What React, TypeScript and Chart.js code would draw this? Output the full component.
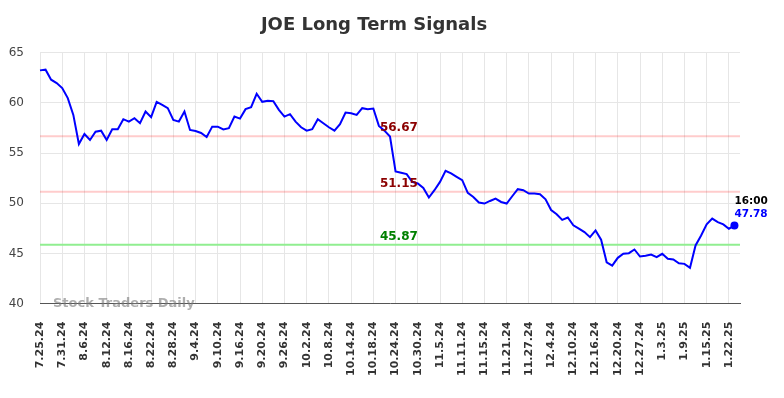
import React, { useEffect, useRef } from "react";
import { Chart, registerables } from "chart.js";

Chart.register(...registerables);

const dates: string[] = [
  "7.25.24", "7.26.24", "7.29.24", "7.30.24", "7.31.24",
  "8.1.24", "8.2.24", "8.5.24", "8.6.24", "8.7.24", "8.8.24", "8.9.24", "8.12.24", "8.13.24", "8.14.24", "8.15.24", "8.16.24",
  "8.19.24", "8.20.24", "8.21.24", "8.22.24", "8.23.24", "8.26.24", "8.27.24", "8.28.24", "8.29.24", "8.30.24",
  "9.3.24", "9.4.24", "9.5.24", "9.6.24", "9.9.24", "9.10.24", "9.11.24", "9.12.24", "9.13.24", "9.16.24", "9.17.24",
  "9.18.24", "9.19.24", "9.20.24", "9.23.24", "9.24.24", "9.25.24", "9.26.24", "9.27.24", "9.30.24",
  "10.1.24", "10.2.24", "10.3.24", "10.4.24", "10.7.24", "10.8.24", "10.9.24", "10.10.24", "10.11.24", "10.14.24",
  "10.15.24", "10.16.24", "10.17.24", "10.18.24", "10.21.24", "10.22.24", "10.23.24", "10.24.24", "10.25.24",
  "10.28.24", "10.29.24", "10.30.24", "10.31.24",
  "11.1.24", "11.4.24", "11.5.24", "11.6.24", "11.7.24", "11.8.24", "11.11.24", "11.12.24", "11.13.24", "11.14.24",
  "11.15.24", "11.18.24", "11.19.24", "11.20.24", "11.21.24", "11.22.24", "11.25.24", "11.26.24", "11.27.24", "11.29.24",
  "12.2.24", "12.3.24", "12.4.24", "12.5.24", "12.6.24", "12.9.24", "12.10.24", "12.11.24", "12.12.24", "12.13.24",
  "12.16.24", "12.17.24", "12.18.24", "12.19.24", "12.20.24", "12.23.24", "12.24.24", "12.26.24", "12.27.24",
  "12.30.24", "12.31.24",
  "1.2.25", "1.3.25", "1.6.25", "1.7.25", "1.8.25", "1.9.25", "1.10.25", "1.13.25", "1.14.25", "1.15.25",
  "1.16.25", "1.17.25", "1.21.25", "1.22.25", "1.23.25", "1.24.25",
];

const prices: number[] = [
  63.23, 63.3, 62.3, 61.97, 61.47, 60.47, 58.8, 55.9, 56.9, 56.3,
  57.13, 57.23, 56.3, 57.37, 57.37, 58.37, 58.13, 58.47, 57.97, 59.13,
  58.57, 60.1, 59.8, 59.47, 58.3, 58.13, 59.13, 57.3, 57.2, 57.0,
  56.6, 57.63, 57.63, 57.35, 57.47, 58.63, 58.43, 59.37, 59.57, 60.9,
  60.1, 60.2, 60.17, 59.3, 58.63, 58.87, 58.13, 57.57, 57.23, 57.37,
  58.37, 57.97, 57.57, 57.23, 57.87, 59.03, 58.97, 58.8, 59.47, 59.37,
  59.43, 57.7, 57.23, 56.65, 53.17, 53.03, 52.9, 52.13, 51.97, 51.53,
  50.57, 51.3, 52.13, 53.23, 52.97, 52.63, 52.3, 51.03, 50.63, 50.07,
  49.97, 50.23, 50.47, 50.13, 49.97, 50.7, 51.4, 51.3, 50.97, 50.97,
  50.9, 50.4, 49.33, 48.9, 48.35, 48.58, 47.8, 47.47, 47.13, 46.63,
  47.3, 46.37, 44.13, 43.8, 44.57, 44.97, 45.03, 45.4, 44.7, 44.77,
  44.9, 44.63, 44.97, 44.47, 44.4, 44.03, 43.97, 43.57, 45.8, 46.8,
  47.9, 48.47, 48.13, 47.9, 47.47, 47.78,
];

const levelValues: number[] = [56.67, 51.15, 45.87];
const levelTexts: string[] = ["56.67", "51.15", "45.87"];
const levelLineColors: string[] = ["rgba(255,0,0,0.2)", "rgba(255,0,0,0.2)", "#90ee90"];
const levelTextColors: string[] = ["#8b0000", "#8b0000", "#008000"];

const yTicks: number[] = [40, 45, 50, 55, 60, 65];
const lastTimeLabel = "16:00";
const lastValueLabel = "47.78";
const titleText = "JOE Long Term Signals";
const watermarkText = "Stock Traders Daily";
const labelLevelIndex = 61;

const FONT = "'DejaVu Sans', sans-serif";

const overlayPlugin = {
  id: "overlay",
  beforeDatasetsDraw(chart: any) {
    const { ctx, chartArea, scales } = chart;
    const y = scales.y;
    ctx.save();
    levelValues.forEach((v, i) => {
      const py = y.getPixelForValue(v);
      ctx.strokeStyle = levelLineColors[i];
      ctx.lineWidth = 2;
      ctx.beginPath();
      ctx.moveTo(chartArea.left, py);
      ctx.lineTo(chartArea.right, py);
      ctx.stroke();
    });
    ctx.restore();
  },
  afterDatasetsDraw(chart: any) {
    const { ctx, chartArea, scales } = chart;
    const x = scales.x;
    const y = scales.y;
    ctx.save();
    ctx.font = `bold 12px ${FONT}`;
    ctx.textAlign = "left";
    ctx.textBaseline = "bottom";
    const lx = x.getPixelForValue(labelLevelIndex);
    levelValues.forEach((v, i) => {
      const py = y.getPixelForValue(v);
      ctx.fillStyle = levelTextColors[i];
      ctx.fillText(levelTexts[i], lx + 1, py - 2);
    });

    const lastIdx = prices.length - 1;
    const px = x.getPixelForValue(lastIdx);
    const py = y.getPixelForValue(prices[lastIdx]);
    ctx.font = `bold 10.5px ${FONT}`;
    ctx.textBaseline = "middle";
    ctx.fillStyle = "#000";
    ctx.fillText(lastTimeLabel, px, py - 24);
    ctx.fillStyle = "#0000ff";
    ctx.fillText(lastValueLabel, px, py - 11);

    ctx.font = `bold 13px ${FONT}`;
    ctx.fillStyle = "rgba(120,120,120,0.6)";
    ctx.textBaseline = "alphabetic";
    ctx.fillText(watermarkText, chartArea.left + 13, y.getPixelForValue(40) + 3);
    ctx.restore();
  },
};

export default function App() {
  const ref = useRef<HTMLCanvasElement | null>(null);
  useEffect(() => {
    if (!ref.current) return;
    const chart = new Chart(ref.current, {
      type: "line",
      data: {
        labels: dates,
        datasets: [
          {
            data: prices,
            borderColor: "#0000ff",
            backgroundColor: "#0000ff",
            borderWidth: 2,
            tension: 0,
            pointRadius: (c: any) => (c.dataIndex === prices.length - 1 ? 4 : 0),
            pointHoverRadius: 0,
            pointBackgroundColor: "#0000ff",
            pointBorderWidth: 0,
          },
        ],
      },
      options: {
        animation: false,
        responsive: false,
        devicePixelRatio: 1,
        layout: { padding: { left: 8, right: 44, top: 5, bottom: 4 } },
        plugins: {
          legend: { display: false },
          tooltip: { enabled: false },
          title: {
            display: true,
            text: titleText,
            color: "#333",
            font: { family: FONT, size: 18, weight: "bold" },
            padding: { top: 10, bottom: 16 },
          },
        },
        scales: {
          x: {
            grid: {
              drawTicks: false,
              color: (c: any) => (c.index % 4 === 0 ? "#e6e6e6" : "rgba(0,0,0,0)"),
            },
            border: { display: true, color: "#555", width: 1 },
            ticks: {
              autoSkip: false,
              minRotation: 90,
              maxRotation: 90,
              padding: 18,
              color: "#333",
              font: { family: FONT, size: 11, weight: "bold" },
              callback: (_v: any, i: number) => (i % 4 === 0 ? dates[i] : ""),
            },
          },
          y: {
            min: 40,
            max: 65,
            afterFit: (s: any) => {
              s.width = 32;
            },
            afterBuildTicks: (s: any) => {
              s.ticks = yTicks.map((v) => ({ value: v }));
            },
            grid: { drawTicks: false, color: "#e6e6e6" },
            border: { display: false },
            ticks: {
              padding: 16,
              color: "#444",
              font: { family: FONT, size: 12 },
            },
          },
        },
      },
      plugins: [overlayPlugin],
    } as any);
    return () => chart.destroy();
  }, []);
  return (
    <div style={{ position: "absolute", left: 0, top: 0, width: 784, height: 398, background: "#fff" }}>
      <canvas ref={ref} width={784} height={398} />
    </div>
  );
}
